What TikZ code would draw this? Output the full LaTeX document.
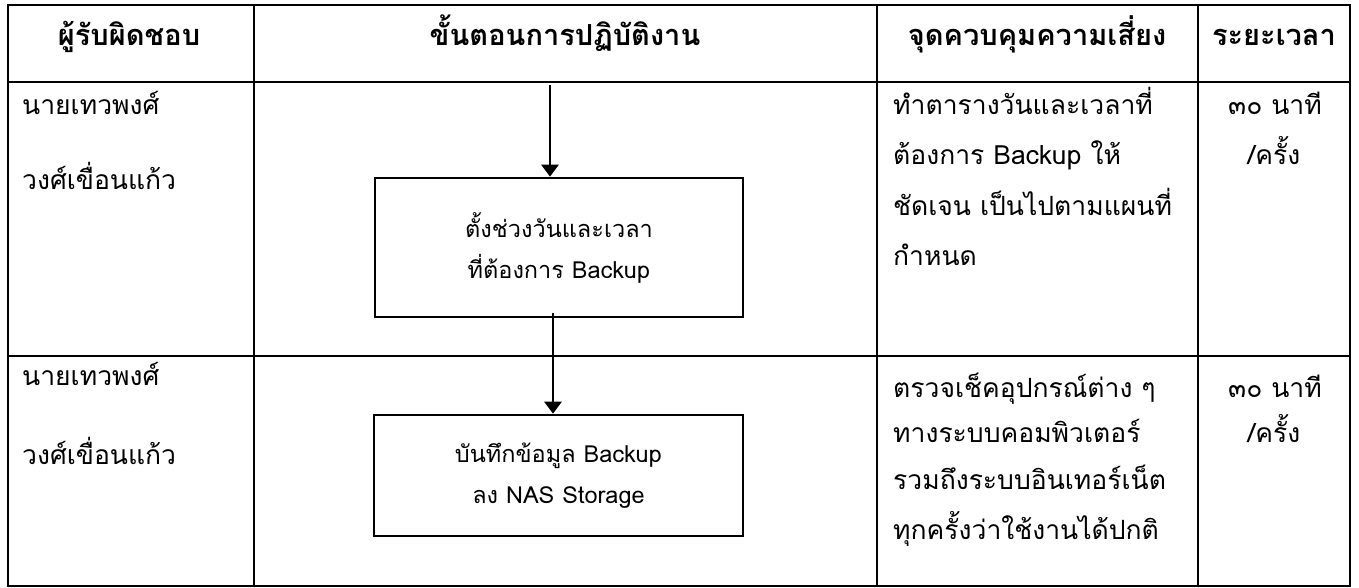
\documentclass[tikz,border=0pt]{standalone}
\usepackage{fontspec}
\setmainfont[Script=Thai]{Loma}
\usetikzlibrary{arrows.meta}
\tikzset{
  grid/.style={line width=2.8pt, line cap=rect},
  hdr/.style={font=\fontsize{29}{32}\selectfont\bfseries, inner sep=0pt, anchor=mid},
  cell/.style={font=\fontsize{26.5}{30}\selectfont, inner sep=0pt, anchor=mid west},
  ctr/.style={font=\fontsize{26.5}{30}\selectfont, inner sep=0pt, anchor=mid},
  stepbox/.style={draw, line width=2.6pt, rectangle, inner sep=0pt, align=center,
     font=\fontsize{23.5}{41}\selectfont},
  flow/.style={line width=2.6pt, -{Triangle[length=12pt,width=17pt]}}
}
\begin{document}
\begin{tikzpicture}[x=1pt,y=-1pt]
\useasboundingbox (0,0) rectangle (1359,587);
% table
\draw[grid] (8,5) rectangle (1350,586);
\draw[grid] (8,82) -- (1350,82);
\draw[grid] (8,356) -- (1350,356);
\draw[grid] (254,5) -- (254,586);
\draw[grid] (877,5) -- (877,586);
\draw[grid] (1198,5) -- (1198,586);
% headers
\node[hdr] (h1) at (129,43) {ผู้รับผิดชอบ};
\node[hdr] (h2) at (565,43) {ขั้นตอนการปฏิบัติงาน};
\node[hdr] (h3) at (1037,43) {จุดควบคุมความเสี่ยง};
\node[hdr] (h4) at (1274,43) {ระยะเวลา};
% row 1
\node[cell] (r1a) at (22,112) {นายเทวพงศ์};
\node[cell] (r1b) at (22,187) {วงศ์เขื่อนแก้ว};
\node[cell] (r1c) at (893,112) {ทำตารางวันและเวลาที่};
\node[cell] (r1d) at (893,162) {ต้องการ Backup ให้};
\node[cell] (r1e) at (893,213) {ชัดเจน เป็นไปตามแผนที่};
\node[cell] (r1f) at (893,263) {กำหนด};
\node[ctr] (r1g) at (1275,112) {๓๐ นาที};
\node[ctr] (r1h) at (1274,162) {/ครั้ง};
% row 2
\node[cell] (r2a) at (22,383) {นายเทวพงศ์};
\node[cell] (r2b) at (22,462) {วงศ์เขื่อนแก้ว};
\node[cell] (r2c) at (893,395) {ตรวจเช็คอุปกรณ์ต่าง ๆ};
\node[cell] (r2d) at (893,440) {ทางระบบคอมพิวเตอร์};
\node[cell] (r2e) at (893,487) {รวมถึงระบบอินเทอร์เน็ต};
\node[cell] (r2f) at (893,537) {ทุกครั้งว่าใช้งานได้ปกติ};
\node[ctr] (r2g) at (1275,395) {๓๐ นาที};
\node[ctr] (r2h) at (1274,440) {/ครั้ง};
% flow boxes
\node[stepbox, minimum width=368pt, minimum height=139pt] (b1) at (559,247.5)
  {ตั้งช่วงวันและเวลา\\ที่ต้องการ Backup};
\node[stepbox, minimum width=369pt, minimum height=121pt] (b2) at (558.5,475.5)
  {บันทึกข้อมูล Backup\\ลง NAS Storage};
\coordinate (start) at (550,85);
\draw[flow] (start) -- (start |- b1.north);
\coordinate (mid) at (553,313);
\draw[flow] (mid) -- (mid |- b2.north);
\end{tikzpicture}
\end{document}
